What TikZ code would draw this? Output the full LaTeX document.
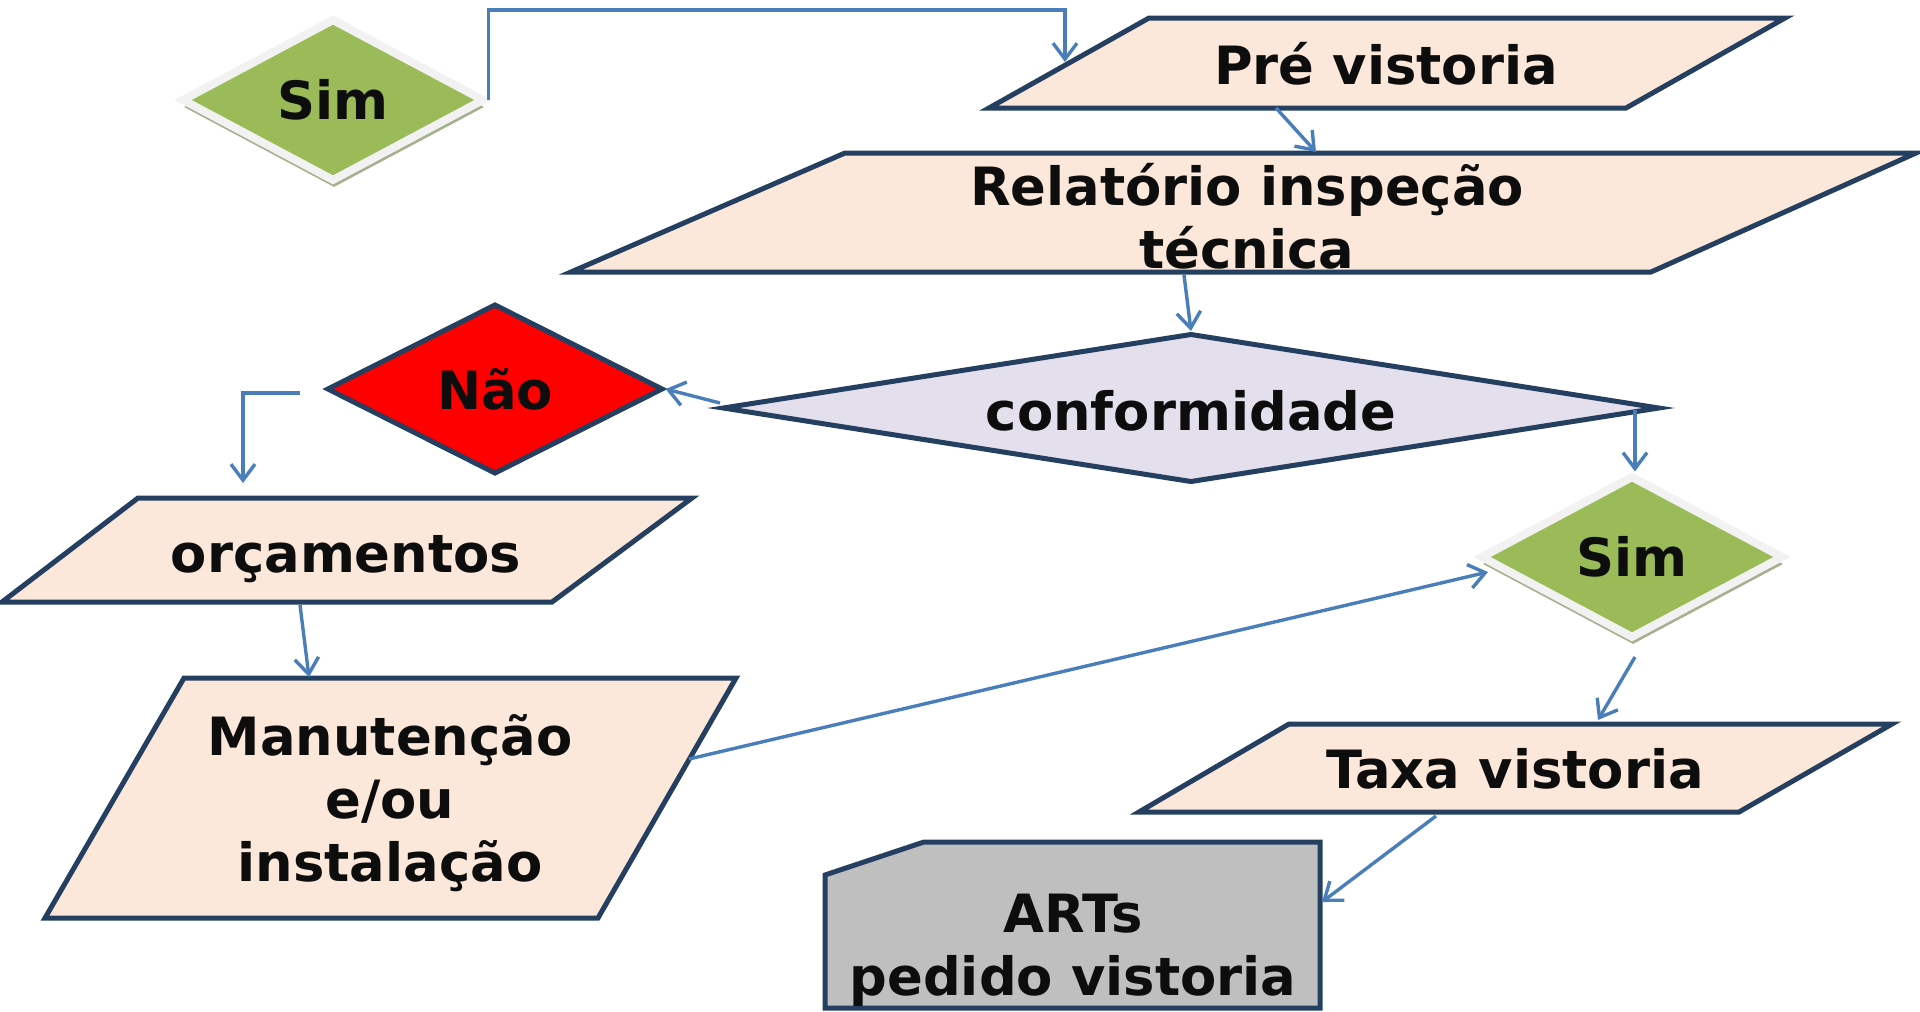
\documentclass[tikz,border=0pt]{standalone}
\usepackage{fontspec}
\setmainfont{DejaVu Sans}
\usetikzlibrary{shapes.geometric,arrows.meta,shadows}
\definecolor{outline}{HTML}{243F60}
\definecolor{link}{HTML}{4A7EBB}
\definecolor{peach}{HTML}{FCE8DA}
\definecolor{lilac}{HTML}{E4DFEC}
\definecolor{leaf}{HTML}{9BBB59}
\definecolor{glow}{HTML}{F2F2F2}
\definecolor{shade}{HTML}{A7AF8E}
\definecolor{stone}{HTML}{BFBFBF}
\tikzset{
  box/.style={draw=outline, line width=0.05cm, fill=peach},
  txt/.style={font=\bfseries\fontsize{15pt}{18pt}\selectfont, align=center, text=black!95},
  arr/.style={draw=link, line width=0.034cm, -{Straight Barb[length=0.16cm,width=0.24cm]}},
  yes/.style={diamond, draw=glow, line width=0.08cm, fill=leaf, inner sep=0pt,
    minimum width=3.03cm, minimum height=1.63cm,
    drop shadow={shadow xshift=0.01cm, shadow yshift=-0.07cm, fill=shade, opacity=1}},
}
\begin{document}
\begin{tikzpicture}[x=0.01cm,y=-0.01cm]
\useasboundingbox (0,0) rectangle (1920,1011);

% input / output boxes
\draw[box] (1149,18) -- (1785,18) -- (1626,108) -- (989,108) -- cycle;  % Pre vistoria
\draw[box] (845,153) -- (1916,153) -- (1651,272) -- (571,272) -- cycle; % Relatorio
\draw[box] (138,498) -- (692,498) -- (552,602) -- (2,602) -- cycle;     % orcamentos
\draw[box] (184,678) -- (736,678) -- (598,918) -- (45,918) -- cycle;    % Manutencao
\draw[box] (1289,724) -- (1892,724) -- (1739,812) -- (1139,812) -- cycle; % Taxa
\draw[box, fill=stone] (924,842) -- (1320,842) -- (1320,1008) -- (825,1008) -- (825,875) -- cycle; % ARTs

\node[txt] (pre) at (1386,64) {Pré vistoria};
\node[txt] (rel) at (1247,216) {Relatório inspeção\\técnica};
\node[txt] (orc) at (346,559) {orçamentos};
\node[txt] (man) at (390,803) {Manutenção\\e/ou\\instalação};
\node[txt] (taxa) at (1515,769) {Taxa vistoria};
\node[txt] (arts) at (1073,950) {ARTs\\pedido vistoria};

% decisions
\node[diamond, draw=outline, line width=0.05cm, fill=lilac, inner sep=0pt, aspect=6.3,
  minimum width=9.37cm, minimum height=1.49cm, txt] (conf) at (1191,408) {};
\node[txt] (conf-t) at (1191,411) {conformidade};
\node[diamond, draw=outline, line width=0.05cm, fill=red, inner sep=0pt,
  minimum width=3.36cm, minimum height=1.70cm, txt] (nao) at (495,389) {Não};
\node[yes, txt] (sim1) at (333,100) {Sim};
\node[yes, txt] (sim2) at (1632,557) {Sim};

% connector ends
\coordinate (pre-in) at (1065,62);
\coordinate (pre-out) at (1276,108);
\coordinate (rel-in) at (1316,152);
\coordinate (rel-out) at (1184,275);
\coordinate (conf-l) at (720,403);
\coordinate (conf-r) at (1635,410);
\coordinate (nao-out) at (300,393);
\coordinate (orc-in) at (243,483);
\coordinate (orc-out) at (300,605);
\coordinate (man-in) at (309,677);
\coordinate (man-out) at (689,759);
\coordinate (sim2-in) at (1488,572);
\coordinate (sim2-out) at (1635,657);
\coordinate (taxa-in) at (1598,720);
\coordinate (taxa-out) at (1436,816);
\coordinate (arts-in) at (1322,902);

\draw[arr] (sim1.east) -- (sim1.east |- 0,10) -| (pre-in);
\draw[arr] (pre-out) -- (rel-in);
\draw[arr] (rel-out) -- (conf.north);
\draw[arr] (conf-l) -- (nao.east);
\draw[arr] (nao-out) -| (orc-in);
\draw[arr] (orc-out) -- (man-in);
\draw[arr] (man-out) -- (sim2-in);
\draw[arr] (conf-r) -- (conf-r |- sim2.north);
\draw[arr] (sim2-out) -- (taxa-in);
\draw[arr] (taxa-out) -- (arts-in);
\end{tikzpicture}
\end{document}
